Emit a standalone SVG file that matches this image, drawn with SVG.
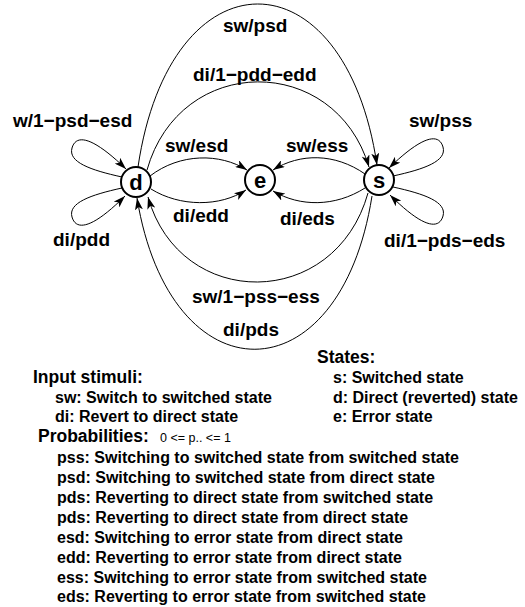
<svg xmlns="http://www.w3.org/2000/svg" width="525" height="607" viewBox="0 0 525 607">
  <style>
    .lbl { font-family: "Liberation Sans", Arial, sans-serif; font-weight: bold; font-size: 19px; fill: #000; }
    .node circle { fill: #fff; stroke: #000; stroke-width: 2; }
    .node text { font-family: "Liberation Sans", Arial, sans-serif; font-weight: bold; font-size: 22px; text-anchor: middle; fill: #000; }
    .edge { fill: none; stroke: #000; stroke-width: 1; marker-end: url(#arrow); }
    .head { font-family: "Liberation Sans", Arial, sans-serif; font-weight: bold; font-size: 17.5px; fill: #000; }
    .item { font-family: "Liberation Sans", Arial, sans-serif; font-weight: bold; font-size: 16px; fill: #000; }
    .note { font-family: "Liberation Sans", Arial, sans-serif; font-size: 12.5px; fill: #000; }
  </style>
  <defs>
    <marker id="arrow" markerUnits="userSpaceOnUse" markerWidth="12" markerHeight="8" refX="12" refY="4" orient="auto">
      <path d="M0,0 L12,4 L0,8 L3,4 z" fill="#000"/>
    </marker>
  </defs>
  <rect width="525" height="607" fill="#fff"/>

  <g id="connectors">
    <!-- d to s, over the top -->
    <path class="edge" d="M138,167 C170,-50 345,-50 377,165"/>
    <path class="edge" d="M147,170 C180,53 335,53 369,167"/>
    <!-- s to d, underneath -->
    <path class="edge" d="M368,193 C335,311 180,311 148,197"/>
    <path class="edge" d="M372,196 C340,400 170,400 137,198"/>
    <!-- self loops on d -->
    <path class="edge" d="M122,177 C90,170 68,162 72,148 C76,134 92,136 126,169"/>
    <path class="edge" d="M122,188 C90,195 68,203 72,217 C76,231 92,229 125,196"/>
    <!-- self loops on s -->
    <path class="edge" d="M393,176 C425,169 447,161 443,147 C439,133 423,135 389,168"/>
    <path class="edge" d="M393,187 C425,194 447,202 443,216 C439,230 423,228 390,195"/>
    <!-- d to e -->
    <path class="edge" d="M150,176 C180,153 220,153 247,170"/>
    <path class="edge" d="M151,189 C180,207 220,207 246,190"/>
    <!-- s to e -->
    <path class="edge" d="M365,174 C335,153 300,153 273,170"/>
    <path class="edge" d="M365,188 C335,207 300,207 273,191"/>
  </g>

  <g id="edge-labels">
    <text class="lbl" x="223" y="32">sw/psd</text>
    <text class="lbl" x="193" y="81">di/1−pdd−edd</text>
    <text class="lbl" x="13" y="127">w/1−psd−esd</text>
    <text class="lbl" x="409" y="127">sw/pss</text>
    <text class="lbl" x="165" y="152">sw/esd</text>
    <text class="lbl" x="286" y="152">sw/ess</text>
    <text class="lbl" x="173" y="222">di/edd</text>
    <text class="lbl" x="280" y="225">di/eds</text>
    <text class="lbl" x="53" y="246">di/pdd</text>
    <text class="lbl" x="384" y="247">di/1−pds−eds</text>
    <text class="lbl" x="192" y="303">sw/1−pss−ess</text>
    <text class="lbl" x="223" y="336">di/pds</text>
  </g>

  <g id="node-d" class="node">
    <circle cx="136" cy="182" r="15"/>
    <text x="136" y="190">d</text>
  </g>
  <g id="node-e" class="node">
    <circle cx="260" cy="180" r="15"/>
    <text x="260" y="188">e</text>
  </g>
  <g id="node-s" class="node">
    <circle cx="379" cy="180" r="15"/>
    <text x="379" y="188">s</text>
  </g>

  <g id="legend">
    <text class="head" x="317" y="363">States:</text>
    <text class="item" x="333" y="383">s: Switched state</text>
    <text class="item" x="333" y="403">d: Direct (reverted) state</text>
    <text class="item" x="333" y="422">e: Error state</text>

    <text class="head" x="33" y="383">Input stimuli:</text>
    <text class="item" x="55" y="403">sw: Switch to switched state</text>
    <text class="item" x="55" y="422">di: Revert to direct state</text>

    <text class="head" x="38" y="442">Probabilities:</text>
    <text class="note" x="160" y="442">0 &lt;= p.. &lt;= 1</text>
    <text class="item" x="57" y="463">pss: Switching to switched state from switched state</text>
    <text class="item" x="57" y="483">psd: Switching to switched state from direct state</text>
    <text class="item" x="57" y="503">pds: Reverting to direct state from switched state</text>
    <text class="item" x="57" y="523">pds: Reverting to direct state from direct state</text>
    <text class="item" x="57" y="543">esd: Switching to error state from direct state</text>
    <text class="item" x="57" y="563">edd: Reverting to error state from direct state</text>
    <text class="item" x="57" y="583">ess: Switching to error state from switched state</text>
    <text class="item" x="57" y="602">eds: Reverting to error state from switched state</text>
  </g>
</svg>
